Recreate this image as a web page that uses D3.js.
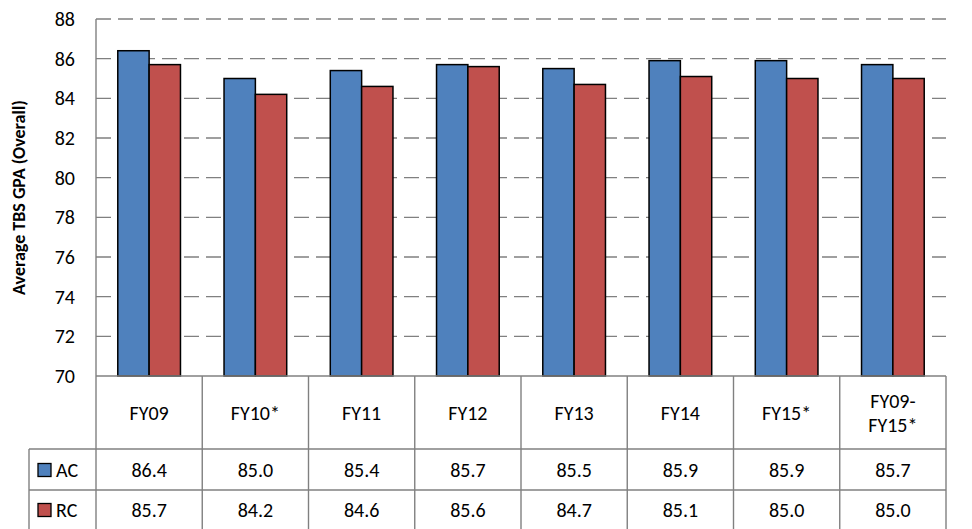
<!DOCTYPE html>
<html><head><meta charset="utf-8">
<script src="https://cdn.jsdelivr.net/npm/d3@7"></script>
<style>body{margin:0;background:#fff}text{font-family:Carlito,Calibri,"Noto Sans",sans-serif;fill:#000}</style>
</head><body>
<svg width="972" height="529"></svg>
<script>
const categories = ["FY09", "FY10*", "FY11", "FY12", "FY13", "FY14", "FY15*", "FY09-FY15*"];
const catLines = [["FY09"], ["FY10*"], ["FY11"], ["FY12"], ["FY13"], ["FY14"], ["FY15*"], ["FY09-", "FY15*"]];
const acValues = [86.4, 85.0, 85.4, 85.7, 85.5, 85.9, 85.9, 85.7];
const rcValues = [85.7, 84.2, 84.6, 85.6, 84.7, 85.1, 85.0, 85.0];
const series = [
  {name: "AC", values: acValues, color: "#4f81bd"},
  {name: "RC", values: rcValues, color: "#c0504d"}
];
const yTicks = [70, 72, 74, 76, 78, 80, 82, 84, 86, 88];

const svg = d3.select("svg");
const plotL = 96, plotR = 946, plotT = 19, plotB = 376;
const rowCat = 449, rowAC = 490, rowRC = 529, labelLeft = 29;
const fs = 20;

const x = d3.scaleBand().domain(categories).range([plotL, plotR]);
const y = d3.scaleLinear().domain([70, 88]).range([plotB, plotT]);
const bw = x.bandwidth() * 0.295;

// gridlines
svg.append("g").selectAll("line").data(yTicks.slice(1)).enter().append("line")
  .attr("x1", plotL).attr("x2", plotR).attr("y1", d => y(d)).attr("y2", d => y(d))
  .attr("stroke", "#808080").attr("stroke-width", 1.4).attr("stroke-dasharray", "15,7");

// bars
series.forEach((s, i) => {
  svg.append("g").selectAll("rect").data(s.values).enter().append("rect")
    .attr("x", (d, j) => x(categories[j]) + x.bandwidth() / 2 - bw + i * bw)
    .attr("y", d => y(d)).attr("width", bw).attr("height", d => plotB - y(d))
    .attr("fill", s.color).attr("stroke", "#000").attr("stroke-width", 1.5);
});

// y axis
svg.append("line").attr("x1", plotL).attr("x2", plotL).attr("y1", plotT).attr("y2", rowRC)
  .attr("stroke", "#808080").attr("stroke-width", 1.4);
svg.append("g").selectAll("text").data(yTicks).enter().append("text")
  .attr("x", 75).attr("y", d => y(d)).attr("dy", "0.35em").attr("text-anchor", "end")
  .attr("font-size", fs).text(d => d);
svg.append("text").attr("transform", `translate(25,${(plotT + plotB) / 2}) rotate(-90)`)
  .attr("text-anchor", "middle").attr("font-size", 18).attr("font-weight", "bold")
  .text("Average TBS GPA (Overall)");

// table grid
const grid = svg.append("g").attr("stroke", "#808080").attr("stroke-width", 1.4);
grid.append("line").attr("x1", plotL).attr("x2", plotR).attr("y1", plotB).attr("y2", plotB);
[rowCat, rowAC].forEach(r => grid.append("line").attr("x1", labelLeft).attr("x2", plotR).attr("y1", r).attr("y2", r));
grid.append("line").attr("x1", labelLeft).attr("x2", labelLeft).attr("y1", rowCat).attr("y2", rowRC);
categories.forEach(c => grid.append("line").attr("x1", x(c) + x.bandwidth()).attr("x2", x(c) + x.bandwidth())
  .attr("y1", plotB).attr("y2", rowRC));

// category labels
svg.append("g").selectAll("text").data(catLines).enter().append("text")
  .attr("text-anchor", "middle").attr("font-size", fs)
  .each(function (lines, j) {
    const t = d3.select(this);
    const cy = (plotB + rowCat) / 2;
    lines.forEach((l, k) => t.append("tspan").attr("x", x(categories[j]) + x.bandwidth() / 2)
      .attr("y", cy + (k - (lines.length - 1) / 2) * 24).attr("dy", "0.35em").text(l));
  });

// value rows
const rows = [[rowCat, rowAC], [rowAC, rowRC]];
series.forEach((s, i) => {
  const cy = (rows[i][0] + rows[i][1]) / 2;
  svg.append("rect").attr("x", 38).attr("y", cy - 6).attr("width", 13).attr("height", 13)
    .attr("fill", s.color).attr("stroke", "#000").attr("stroke-width", 1.3);
  svg.append("text").attr("x", 56).attr("y", cy).attr("dy", "0.35em").attr("font-size", fs).text(s.name);
  svg.append("g").selectAll("text").data(s.values).enter().append("text")
    .attr("x", (d, j) => x(categories[j]) + x.bandwidth() / 2).attr("y", cy).attr("dy", "0.35em")
    .attr("text-anchor", "middle").attr("font-size", fs).text(d => d.toFixed(1));
});
</script>
</body></html>
